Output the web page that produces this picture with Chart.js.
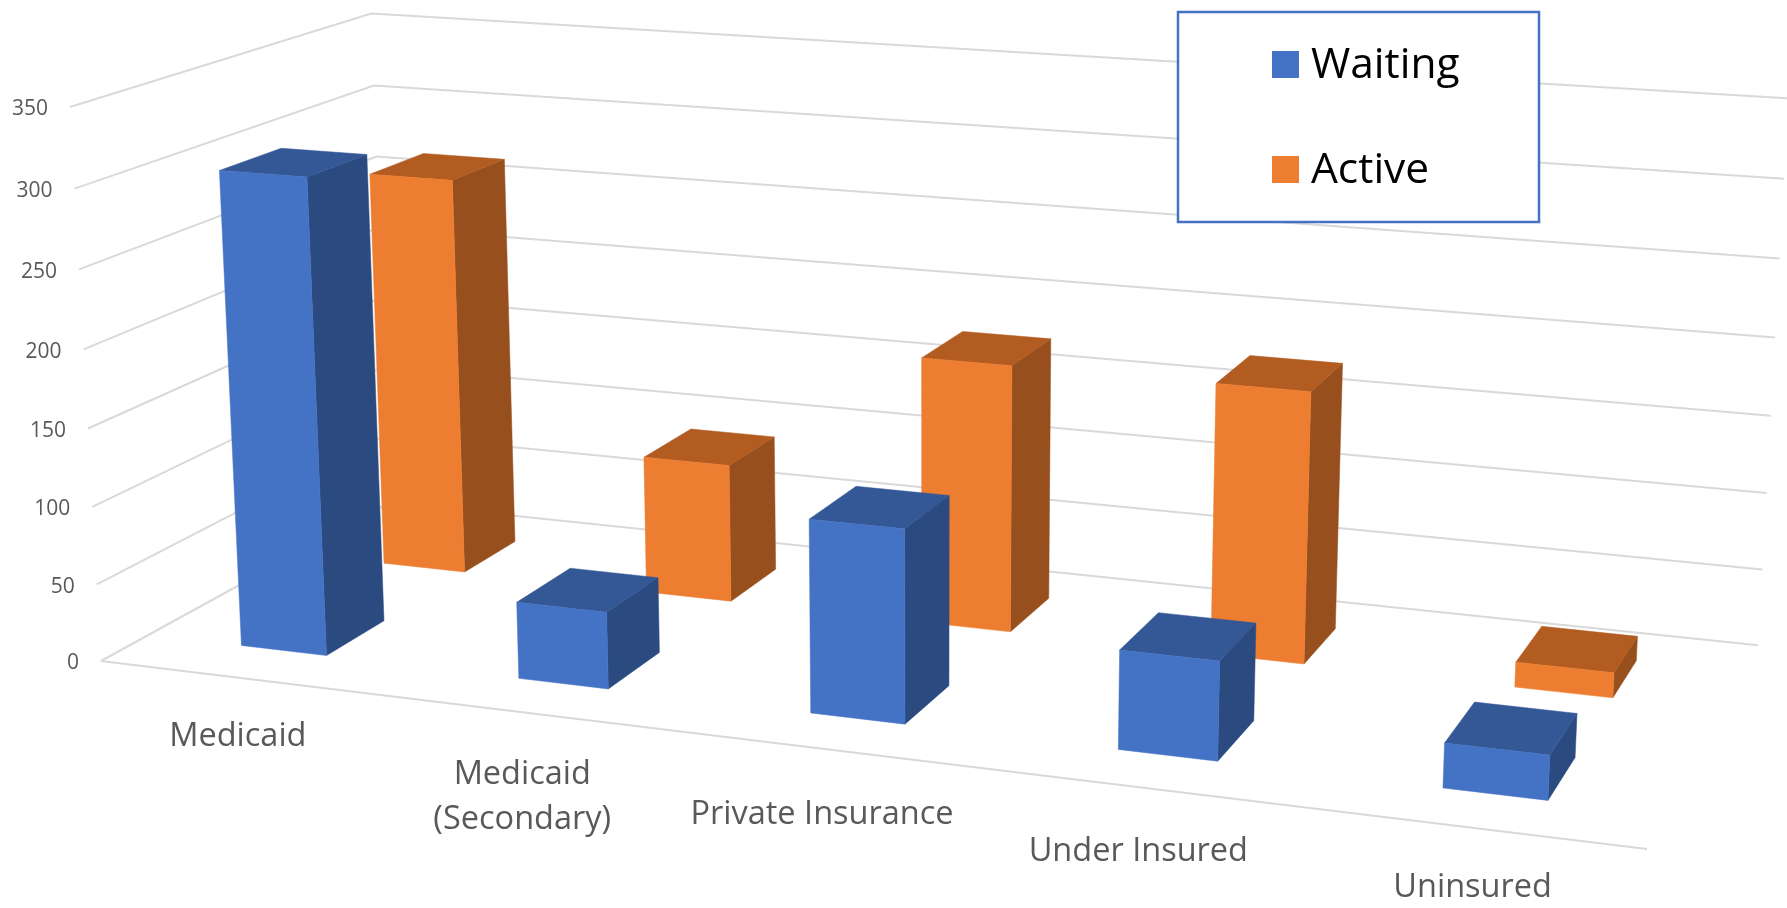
<!DOCTYPE html>
<html>
<head>
<meta charset="utf-8">
<title>Waiting and Active by insurance</title>
<script src="https://cdn.jsdelivr.net/npm/chart.js@4"></script>
<style>
  html, body { margin: 0; padding: 0; background: #fff; }
  canvas { display: block; }
</style>
</head>
<body>
<canvas id="myChart" width="1787" height="908"></canvas>
<script>
// chart data
const categories = ['Medicaid', ['Medicaid', '(Secondary)'], 'Private Insurance', 'Under Insured', 'Uninsured'];
const waiting = [305, 49, 121, 61, 27];
const active = [267, 92, 175, 175, 16];

// camera for the 3d look: maps (across, depth, height), each 0..1, onto the canvas
const camX = [101, 1338.4, 342.24, -33.52];
const camY = [661, 80.98, -88.07, -557.9];
const camD = [1, -0.12605, 0.13948, -0.036];

const rowDepth = 0.2;
const labelDrop = [59, 62.5, 66, 65, 60]; // category labels, px below the floor edge
const textFont = '"Open Sans", sans-serif';

function project(u, v, w) {
  const d = camD[0] + camD[1] * u + camD[2] * v + camD[3] * w;
  return {
    x: (camX[0] + camX[1] * u + camX[2] * v + camX[3] * w) / d,
    y: (camY[0] + camY[1] * u + camY[2] * v + camY[3] * w) / d
  };
}

function polygon(ctx, pts, color) {
  ctx.beginPath();
  pts.forEach((p, i) => i ? ctx.lineTo(p.x, p.y) : ctx.moveTo(p.x, p.y));
  ctx.closePath();
  ctx.fillStyle = color;
  ctx.strokeStyle = color;
  ctx.lineWidth = 0.5;
  ctx.fill();
  ctx.stroke();
}

const bars3d = {
  id: 'bars3d',

  // walls and floor, before any bar
  beforeDatasetsDraw(chart) {
    const ctx = chart.ctx, y = chart.scales.y;
    ctx.save();
    ctx.strokeStyle = '#D9D9D9';
    ctx.lineWidth = 2;
    y.ticks.forEach(t => {
      const w = (y.bottom - y.getPixelForValue(t.value)) / y.height;
      const a = project(0, 0, w), b = project(0, 1, w), c = project(1, 1, w);
      ctx.beginPath();
      ctx.moveTo(a.x, a.y);
      ctx.lineTo(b.x, b.y);
      ctx.lineTo(c.x, c.y);
      ctx.stroke();
    });
    const a = project(0, 0, 0), b = project(1, 0, 0);
    ctx.beginPath();
    ctx.moveTo(a.x, a.y);
    ctx.lineTo(b.x, b.y);
    ctx.stroke();
    ctx.restore();
  },

  // every bar becomes a box, placed from the element the bar controller worked out
  beforeDatasetDraw(chart, args) {
    const ctx = chart.ctx, area = chart.chartArea, y = chart.scales.y;
    const ds = chart.data.datasets[args.index];
    const rows = chart.data.datasets.length;
    const v0 = (args.index + 0.5) / rows - rowDepth / 2, v1 = v0 + rowDepth;
    ctx.save();
    args.meta.data.forEach(el => {
      const u0 = (el.x - el.width / 2 - area.left) / area.width;
      const u1 = (el.x + el.width / 2 - area.left) / area.width;
      const w0 = (y.bottom - el.base) / y.height;
      const w1 = (y.bottom - el.y) / y.height;
      polygon(ctx, [project(u1, v0, w0), project(u1, v1, w0), project(u1, v1, w1), project(u1, v0, w1)], ds.sideColor);
      polygon(ctx, [project(u0, v0, w1), project(u1, v0, w1), project(u1, v1, w1), project(u0, v1, w1)], ds.topColor);
      polygon(ctx, [project(u0, v0, w0), project(u1, v0, w0), project(u1, v0, w1), project(u0, v0, w1)], ds.backgroundColor);
    });
    ctx.restore();
    return false;
  },

  // axis labels and legend on top
  afterDatasetsDraw(chart) {
    const ctx = chart.ctx, area = chart.chartArea, x = chart.scales.x, y = chart.scales.y;
    ctx.save();
    ctx.fillStyle = '#595959';
    ctx.textBaseline = 'middle';

    ctx.font = '21px ' + textFont;
    ctx.textAlign = 'right';
    y.ticks.forEach(t => {
      const w = (y.bottom - y.getPixelForValue(t.value)) / y.height;
      const p = project(0, 0, w);
      ctx.fillText(t.label, p.x - 22, p.y + 2.5);
    });

    ctx.font = '32.5px ' + textFont;
    ctx.textAlign = 'center';
    categories.forEach((label, i) => {
      const p = project((x.getPixelForValue(i) - area.left) / area.width, 0, 0);
      [].concat(label).forEach((line, n) => ctx.fillText(line, p.x, p.y + labelDrop[i] + n * 45.5));
    });

    // legend box
    ctx.fillStyle = '#fff';
    ctx.fillRect(1178, 12, 361, 210);
    ctx.strokeStyle = '#4472C4';
    ctx.lineWidth = 2.5;
    ctx.strokeRect(1178, 12, 361, 210);
    ctx.font = '42.5px ' + textFont;
    ctx.textAlign = 'left';
    ctx.textBaseline = 'alphabetic';
    chart.data.datasets.forEach((ds, i) => {
      const top = 51 + i * 105;
      ctx.fillStyle = ds.backgroundColor;
      ctx.fillRect(1272, top, 27, 27);
      ctx.fillStyle = '#000';
      ctx.fillText(ds.label, 1311, top + 27);
    });
    ctx.restore();
  }
};

const ctx = document.getElementById('myChart').getContext('2d');

new Chart(ctx, {
  type: 'bar',
  data: {
    labels: categories,
    datasets: [
      { label: 'Waiting', data: waiting, backgroundColor: '#4472C4', sideColor: '#2A4A80', topColor: '#345795' },
      { label: 'Active', data: active, backgroundColor: '#ED7D31', sideColor: '#974F1D', topColor: '#B25C21' }
    ]
  },
  options: {
    responsive: false,
    animation: false,
    events: [],
    grouped: false,
    barPercentage: 0.39,
    layout: { padding: 0 },
    plugins: { legend: { display: false }, tooltip: { enabled: false } },
    scales: {
      x: { display: false },
      y: { display: false, min: 0, max: 350, ticks: { stepSize: 50 } }
    }
  },
  plugins: [bars3d]
});
</script>
</body>
</html>
